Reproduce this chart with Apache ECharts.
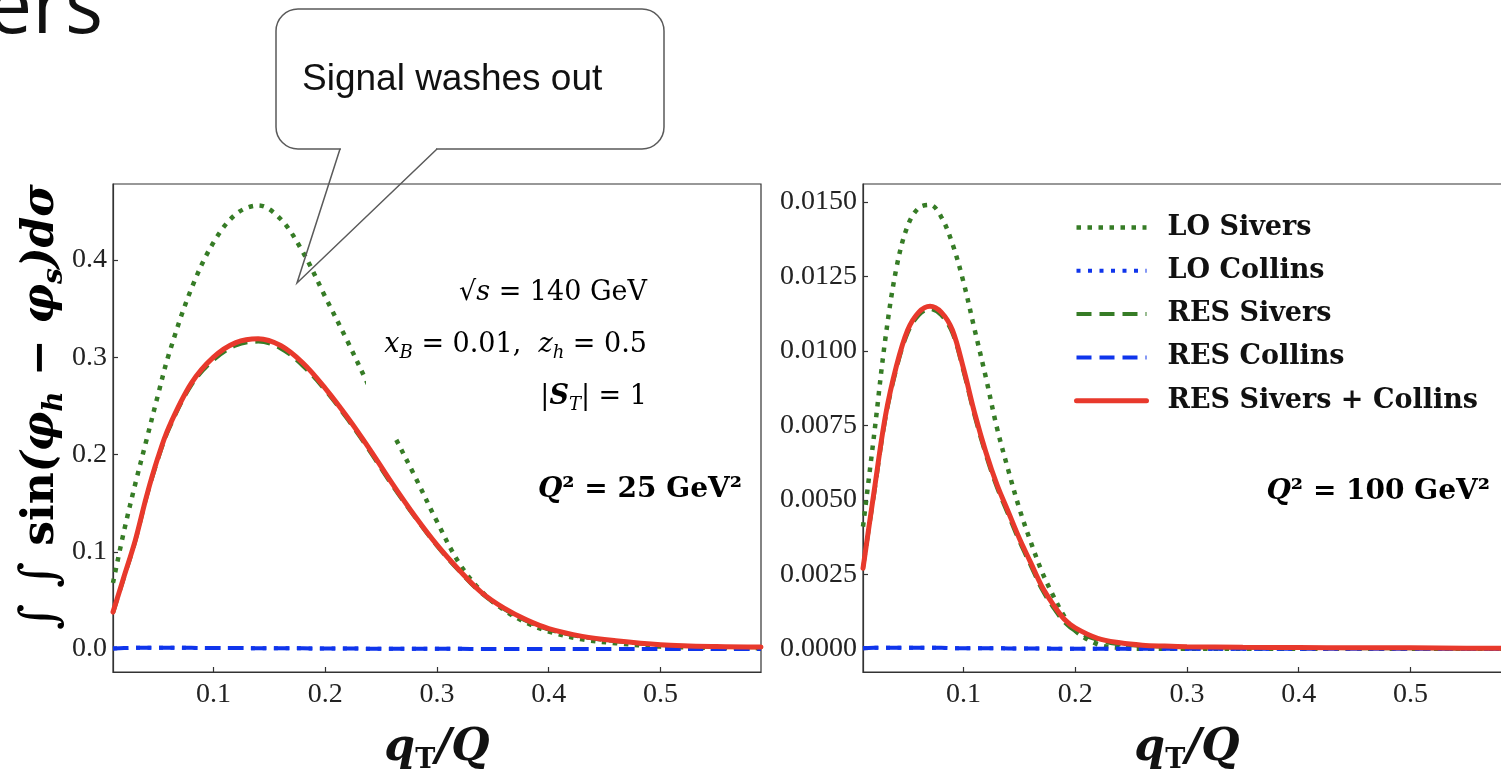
<!DOCTYPE html>
<html>
<head>
<meta charset="utf-8">
<script src="https://cdn.jsdelivr.net/npm/echarts@6.0.0/dist/echarts.min.js"></script>
<style>
  html, body { margin: 0; padding: 0; background: #ffffff; }
  #chart { width: 1501px; height: 770px; }
</style>
</head>
<body>
<div id="chart"></div>
<script>
// ---- data: left panel, Q^2 = 25 GeV^2 ----
const xQ25 = [0.01,0.02,0.03,0.04,0.05,0.06,0.08,0.10,0.12,0.14,0.16,0.18,0.20,0.22,0.24,0.26,0.28,0.30,0.32,0.34,0.36,0.38,0.40,0.43,0.46,0.50,0.55,0.59];
const loSiversQ25  = [0.068,0.122,0.170,0.215,0.260,0.303,0.370,0.418,0.447,0.456,0.442,0.408,0.362,0.316,0.268,0.223,0.178,0.131,0.088,0.059,0.040,0.027,0.018,0.010,0.006,0.0025,0.0012,0.0008];
const loCollinsQ25 = [0.0006,0.0010,0.0012,0.0013,0.0013,0.0013,0.0012,0.0011,0.0010,0.0009,0.0008,0.0007,0.0006,0.0005,0.0004,0.0003,0.0003,0.0002,0.0002,0.0001,0.0001,0.0001,0.0001,0,0,0,0,0];
const resSiversQ25 = [0.037,0.074,0.111,0.156,0.194,0.226,0.271,0.297,0.312,0.316,0.309,0.291,0.266,0.236,0.203,0.168,0.136,0.106,0.080,0.057,0.041,0.029,0.020,0.0125,0.008,0.0042,0.0023,0.0018];
const resCollinsQ25 = [0.0006,0.0010,0.0012,0.0013,0.0013,0.0013,0.0012,0.0011,0.0010,0.0009,0.0008,0.0007,0.0006,0.0005,0.0004,0.0003,0.0003,0.0002,0.0002,0.0001,0.0001,0.0001,0.0001,0,0,0,0,0];
const resTotalQ25  = [0.038,0.075,0.112,0.157,0.196,0.228,0.273,0.300,0.315,0.319,0.312,0.294,0.268,0.238,0.205,0.170,0.137,0.107,0.081,0.058,0.042,0.030,0.021,0.013,0.0085,0.0045,0.0025,0.002];

// ---- data: right panel, Q^2 = 100 GeV^2 ----
const xQ100 = [0.01,0.02,0.03,0.04,0.05,0.06,0.07,0.08,0.09,0.10,0.11,0.12,0.13,0.14,0.15,0.16,0.17,0.18,0.19,0.20,0.22,0.24,0.26,0.28,0.30,0.35,0.40,0.45,0.50,0.55,0.59];
const loSiversQ100  = [0.0041,0.0072,0.0104,0.0128,0.0142,0.0148,0.0149,0.0145,0.0136,0.0123,0.0107,0.0091,0.0074,0.0060,0.0047,0.0036,0.0026,0.0018,0.0011,0.0006,0.00015,0.00003,0,0,0,0,0,0,0,0,0];
const loCollinsQ100 = [0.00002,0.00003,0.00003,0.00003,0.00003,0.00003,0.00003,0.00003,0.00002,0.00002,0.00002,0.00002,0.00002,0.00001,0.00001,0.00001,0.00001,0,0,0,0,0,0,0,0,0,0,0,0,0,0];
const resSiversQ100 = [0.0027,0.0052,0.0077,0.0094,0.0106,0.0112,0.0114,0.0112,0.0106,0.0093,0.0078,0.0065,0.0054,0.0045,0.0036,0.0028,0.0020,0.0014,0.0009,0.0006,0.0003,0.00015,0.0001,0.00007,0.00005,0.00004,0.00003,0.00002,0.00002,0.00001,0.00001];
const resCollinsQ100 = [0.00002,0.00003,0.00003,0.00003,0.00003,0.00003,0.00003,0.00003,0.00002,0.00002,0.00002,0.00002,0.00002,0.00001,0.00001,0.00001,0.00001,0,0,0,0,0,0,0,0,0,0,0,0,0,0];
const resTotalQ100  = [0.0027,0.0053,0.0078,0.0095,0.0107,0.0113,0.0115,0.0113,0.0107,0.0094,0.0079,0.0066,0.0055,0.0046,0.0037,0.0029,0.0021,0.0015,0.0010,0.0007,0.00035,0.0002,0.00012,0.00009,0.00007,0.00005,0.00004,0.00003,0.00003,0.00002,0.00002];

// ---- ticks ----
const xTicks = [0.1,0.2,0.3,0.4,0.5];
const yTicksQ25 = [0.0,0.1,0.2,0.3,0.4];
const yTicksQ100 = [0.0,0.0025,0.0050,0.0075,0.0100,0.0125,0.0150];

const seriesNames = ['LO Sivers','LO Collins','RES Sivers','RES Collins','RES Sivers + Collins'];

const SERIF = '"Liberation Serif", "DejaVu Serif", serif';
const MATH = '"DejaVu Serif", "Liberation Serif", serif';
const GREEN = '#367c26';
const BLUE = '#0f35ec';
const RED = '#e8392c';

// dotted LO Collins shares the dash period of RES Collins so its dots sit under the dashes
const styles = {
  'LO Sivers':            { color: GREEN, width: 4.5, type: [4.5, 6.5], cap: 'butt' },
  'LO Collins':           { color: BLUE,  width: 4,   type: [4, 7.5],   cap: 'butt' },
  'RES Sivers':           { color: GREEN, width: 4,   type: [15, 8],    cap: 'butt' },
  'RES Collins':          { color: BLUE,  width: 4,   type: [15, 8],    cap: 'butt' },
  'RES Sivers + Collins': { color: RED,   width: 5,   type: 'solid',    cap: 'round' }
};

const zip = (xs, ys) => xs.map((x, i) => [x, ys[i]]);

const panels = [
  { x: xQ25,  ys: [loSiversQ25, loCollinsQ25, resSiversQ25, resCollinsQ25, resTotalQ25] },
  { x: xQ100, ys: [loSiversQ100, loCollinsQ100, resSiversQ100, resCollinsQ100, resTotalQ100] }
];

const series = [];
panels.forEach((p, gi) => {
  seriesNames.forEach((name, si) => {
    const st = styles[name];
    series.push({
      type: 'line',
      name: name,
      xAxisIndex: gi,
      yAxisIndex: gi,
      data: zip(p.x, p.ys[si]),
      smooth: 0.35,
      symbol: 'none',
      showSymbol: false,
      z: 2 + si,
      itemStyle: { color: st.color },
      lineStyle: { color: st.color, width: st.width, type: st.type, cap: st.cap }
    });
  });
});

const axisTitleRich = {
  bi:  { fontFamily: MATH, fontSize: 44, fontWeight: 'bold', fontStyle: 'italic', color: '#111', lineHeight: 50 },
  sub: { fontFamily: MATH, fontSize: 27, fontWeight: 'bold', color: '#111', lineHeight: 18, verticalAlign: 'bottom' }
};

function makeXAxis(gi) {
  return {
    type: 'value', gridIndex: gi, min: 0.01, max: 0.59,
    axisLine: { show: true, onZero: false, lineStyle: { color: '#333', width: 1.2 } },
    axisTick: { show: true, inside: true, length: 5, customValues: xTicks, lineStyle: { color: '#333', width: 1.2 } },
    axisLabel: { customValues: xTicks, fontFamily: SERIF, fontSize: 28, color: '#222', margin: 9,
                 formatter: v => v.toFixed(1) },
    splitLine: { show: false },
    name: '{bi|q}{sub|T}{bi|/Q}',
    nameLocation: 'middle', nameGap: 52,
    nameTextStyle: { rich: axisTitleRich }
  };
}

function makeYAxis(gi, min, max, ticks, digits) {
  return {
    type: 'value', gridIndex: gi, min: min, max: max,
    axisLine: { show: true, onZero: false, lineStyle: { color: '#333', width: 1.2 } },
    axisTick: { show: true, inside: true, length: 5, customValues: ticks, lineStyle: { color: '#333', width: 1.2 } },
    axisLabel: { customValues: ticks, fontFamily: SERIF, fontSize: 28, color: '#222', margin: 6,
                 formatter: v => v.toFixed(digits) },
    splitLine: { show: false }
  };
}

const INK = '#3a3a3a';
const mathRich = {
  r:   { fontFamily: MATH, fontSize: 27, color: INK, lineHeight: 34 },
  i:   { fontFamily: MATH, fontSize: 27, fontStyle: 'italic', color: INK, lineHeight: 34 },
  bi:  { fontFamily: MATH, fontSize: 27, fontStyle: 'italic', fontWeight: 'bold', color: INK, lineHeight: 34 },
  sub: { fontFamily: MATH, fontSize: 18, fontStyle: 'italic', color: INK, lineHeight: 14, verticalAlign: 'bottom' }
};

const qRich = {
  bi: { fontFamily: MATH, fontSize: 28, fontStyle: 'italic', fontWeight: 'bold', color: '#111' },
  b:  { fontFamily: MATH, fontSize: 28, fontWeight: 'bold', color: '#111' }
};

const yTitleRich = {
  ig:  { fontFamily: MATH, fontSize: 50, fontStyle: 'italic', color: '#111', lineHeight: 54 },
  b:   { fontFamily: MATH, fontSize: 44, fontWeight: 'bold', color: '#111', lineHeight: 54 },
  bi:  { fontFamily: MATH, fontSize: 44, fontWeight: 'bold', fontStyle: 'italic', color: '#111', lineHeight: 54 },
  sub: { fontFamily: MATH, fontSize: 28, fontWeight: 'bold', fontStyle: 'italic', color: '#111', lineHeight: 18, verticalAlign: 'bottom' }
};

const BUBBLE = '#5a5a5a';

const option = {
  backgroundColor: '#ffffff',
  animation: false,
  grid: [
    { left: 113, top: 184, width: 648, height: 488, show: true, borderColor: '#333', borderWidth: 1.2, outerBoundsMode: 'none' },
    { left: 863, top: 184, width: 648, height: 488, show: true, borderColor: '#333', borderWidth: 1.2, outerBoundsMode: 'none' }
  ],
  xAxis: [makeXAxis(0), makeXAxis(1)],
  yAxis: [
    makeYAxis(0, -0.0236, 0.478, yTicksQ25, 1),
    makeYAxis(1, -0.00078, 0.0156, yTicksQ100, 4)
  ],
  legend: {
    data: seriesNames,
    orient: 'vertical',
    left: 1074, top: 214,
    padding: 0,
    itemWidth: 70, itemHeight: 16, itemGap: 16.3,
    itemStyle: { opacity: 0 },
    lineStyle: { width: 'inherit' },
    textStyle: { fontFamily: MATH, fontSize: 27, fontWeight: 'bold', color: '#111', padding: [0, 0, 0, 16] }
  },
  series: series,
  graphic: [
    // slide title fragment
    { type: 'text', x: 103, y: 50, z: 100,
      style: { text: 'ers', font: '80px "Open Sans", sans-serif', fill: '#111', align: 'right', verticalAlign: 'bottom' } },
    // speech bubble: rounded box, gap in its lower edge, open tail
    { type: 'rect', z: 100, shape: { x: 276, y: 9, width: 388, height: 140, r: 22 },
      style: { fill: 'none', stroke: BUBBLE, lineWidth: 1.5 } },
    { type: 'line', z: 101, shape: { x1: 341, y1: 149, x2: 436, y2: 149 },
      style: { stroke: '#ffffff', lineWidth: 3 } },
    { type: 'polyline', z: 102, shape: { points: [[340, 149], [297, 283], [437, 149]] },
      style: { fill: 'none', stroke: BUBBLE, lineWidth: 1.5 } },
    { type: 'text', x: 302, y: 80, z: 101,
      style: { text: 'Signal washes out', font: '37px "Liberation Sans", Arial, sans-serif', fill: '#111',
               align: 'left', verticalAlign: 'middle' } },
    // kinematics box
    { type: 'rect', z: 60, shape: { x: 366, y: 262, width: 288, height: 175 }, style: { fill: '#ffffff' } },
    { type: 'text', x: 647, y: 293, z: 61,
      style: { text: '{r|√}{i|s}{r| = 140 GeV}', rich: mathRich, align: 'right', verticalAlign: 'middle' } },
    { type: 'text', x: 647, y: 345, z: 61,
      style: { text: '{i|x}{sub|B}{r| = 0.01,  }{i|z}{sub|h}{r| = 0.5}', rich: mathRich, align: 'right', verticalAlign: 'middle' } },
    { type: 'text', x: 647, y: 397, z: 61,
      style: { text: '{r||}{bi|S}{sub|T}{r|| = 1}', rich: mathRich, align: 'right', verticalAlign: 'middle' } },
    { type: 'text', x: 742, y: 490, z: 61,
      style: { text: '{bi|Q}{b|² = 25 GeV²}', rich: qRich, align: 'right', verticalAlign: 'middle' } },
    { type: 'text', x: 1490, y: 492, z: 61,
      style: { text: '{bi|Q}{b|² = 100 GeV²}', rich: qRich, align: 'right', verticalAlign: 'middle' } },
    // y-axis title of the left panel
    { type: 'text', x: 42, y: 407, rotation: Math.PI / 2, z: 61,
      style: { text: '{ig|∫ ∫ }{b|sin}{bi|(φ}{sub|h}{bi| − φ}{sub|s}{bi|)dσ}', rich: yTitleRich,
               align: 'center', verticalAlign: 'middle' } }
  ]
};

const chart = echarts.init(document.getElementById('chart'), null, { renderer: 'canvas' });
chart.setOption(option);
</script>
</body>
</html>
